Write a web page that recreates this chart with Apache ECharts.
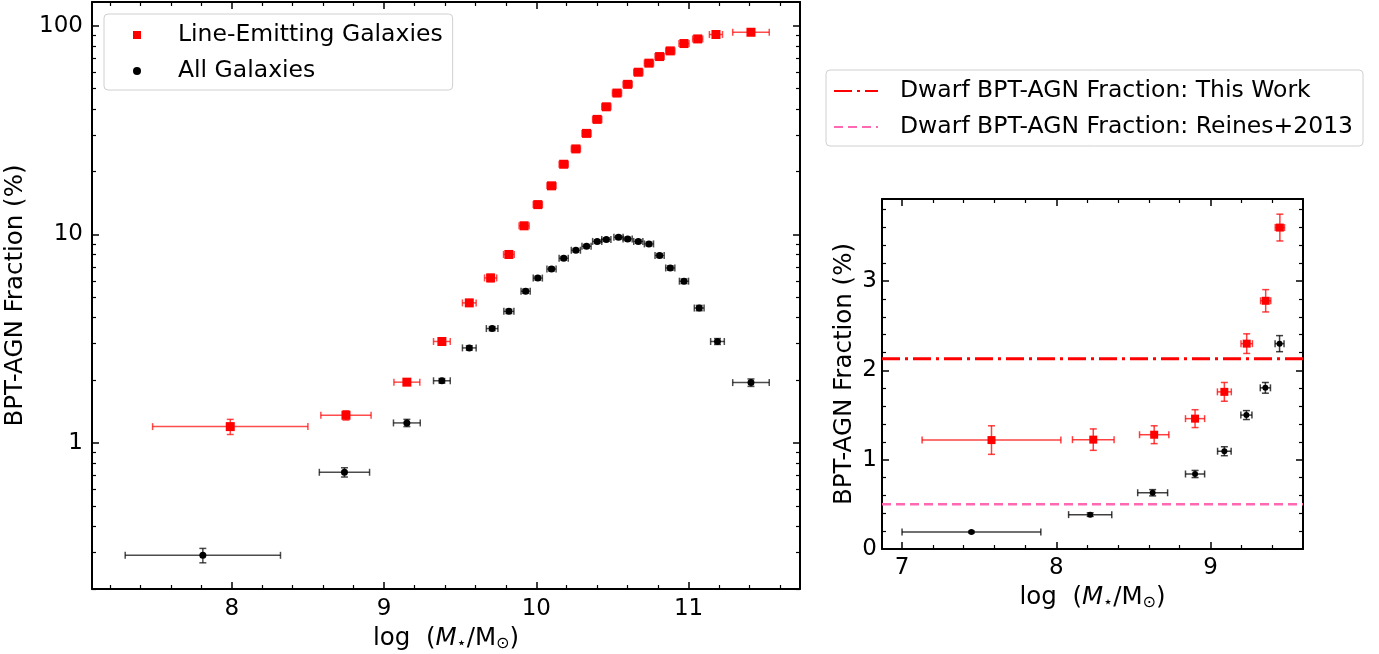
<!DOCTYPE html>
<html>
<head>
<meta charset="utf-8">
<script src="https://cdn.jsdelivr.net/npm/echarts@6/dist/echarts.min.js"></script>
<style>
html,body{margin:0;padding:0;background:#fff;}
#chart{width:1379px;height:654px;}
</style>
</head>
<body>
<div id="chart"></div>
<script>
// ---------- DATA (main panel) ----------
const lineX    = [7.99, 8.75, 9.15, 9.38, 9.56, 9.70, 9.82, 9.92, 10.01, 10.10, 10.18, 10.26, 10.33, 10.40, 10.46, 10.53, 10.60, 10.67, 10.74, 10.81, 10.88, 10.97, 11.06, 11.18, 11.41];
const lineY    = [1.20, 1.36, 1.96, 3.07, 4.70, 6.19, 8.02, 11.0, 13.9, 17.1, 21.7, 25.7, 30.5, 35.6, 40.9, 47.6, 52.4, 59.9, 66.2, 71.2, 75.8, 82.2, 86.5, 90.8, 93.1];
const lineXErr = [0.51, 0.165, 0.085, 0.055, 0.045, 0.04, 0.035, 0.033, 0.03, 0.03, 0.03, 0.03, 0.03, 0.03, 0.03, 0.03, 0.03, 0.03, 0.03, 0.03, 0.03, 0.033, 0.033, 0.043, 0.12];
const lineYErr = [0.10, 0.07, 0.06, 0.12, 0.17, 0.25, 0.3, 0.4, 0.5, 0.6, 0.7, 0.8, 0.9, 1.0, 1.1, 1.3, 1.4, 1.5, 1.6, 1.7, 1.8, 1.9, 2.0, 2.5, 3.0];

const allX     = [7.81, 8.74, 9.15, 9.38, 9.56, 9.71, 9.82, 9.93, 10.01, 10.10, 10.18, 10.26, 10.33, 10.40, 10.46, 10.54, 10.60, 10.67, 10.74, 10.81, 10.88, 10.97, 11.07, 11.19, 11.41];
const allY     = [0.29, 0.725, 1.25, 1.99, 2.86, 3.54, 4.28, 5.35, 6.18, 6.83, 7.69, 8.40, 8.78, 9.26, 9.46, 9.70, 9.52, 9.26, 9.01, 7.93, 6.91, 5.97, 4.44, 3.07, 1.95];
const allXErr  = [0.51, 0.165, 0.088, 0.055, 0.045, 0.038, 0.033, 0.03, 0.03, 0.03, 0.03, 0.03, 0.03, 0.03, 0.03, 0.03, 0.03, 0.03, 0.03, 0.03, 0.03, 0.03, 0.032, 0.045, 0.12];
const allYErr  = [0.023, 0.037, 0.05, 0.05, 0.07, 0.08, 0.1, 0.12, 0.13, 0.14, 0.15, 0.16, 0.17, 0.17, 0.18, 0.18, 0.18, 0.18, 0.18, 0.17, 0.16, 0.15, 0.13, 0.1, 0.08];

// ---------- DATA (dwarf panel) ----------
const dwarfLineX    = [7.58, 8.24, 8.635, 8.90, 9.09, 9.235, 9.358, 9.45];
const dwarfLineY    = [1.22, 1.225, 1.28, 1.46, 1.76, 2.30, 2.78, 3.60];
const dwarfLineXErr = [0.45, 0.135, 0.095, 0.062, 0.045, 0.037, 0.033, 0.03];
const dwarfLineYErr = [0.16, 0.12, 0.10, 0.10, 0.105, 0.11, 0.125, 0.15];

const dwarfAllX     = [7.45, 8.22, 8.625, 8.90, 9.09, 9.233, 9.356, 9.448];
const dwarfAllY     = [0.19, 0.385, 0.63, 0.84, 1.095, 1.50, 1.805, 2.30];
const dwarfAllXErr  = [0.45, 0.14, 0.097, 0.062, 0.044, 0.036, 0.033, 0.029];
const dwarfAllYErr  = [0.01, 0.02, 0.035, 0.04, 0.05, 0.05, 0.06, 0.09];

const fracThisWork = 2.13;
const fracReines   = 0.50;

// ---------- TICKS ----------
const mainXLabels  = [8, 9, 10, 11];
const mainXMinor   = [7.2, 7.4, 7.6, 7.8, 8.2, 8.4, 8.6, 8.8, 9.2, 9.4, 9.6, 9.8, 10.2, 10.4, 10.6, 10.8, 11.2, 11.4, 11.6];
const mainYLabels  = [1, 10, 100];
const mainYMinor   = [0.2, 0.3, 0.4, 0.5, 0.6, 0.7, 0.8, 0.9, 2, 3, 4, 5, 6, 7, 8, 9, 20, 30, 40, 50, 60, 70, 80, 90];
const dwarfXLabels = [7, 8, 9];
const dwarfXMinor  = [7.2, 7.4, 7.6, 7.8, 8.2, 8.4, 8.6, 8.8, 9.2, 9.4];
const dwarfYLabels = [0, 1, 2, 3];
const dwarfYMinor  = [0.2, 0.4, 0.6, 0.8, 1.2, 1.4, 1.6, 1.8, 2.2, 2.4, 2.6, 2.8, 3.2, 3.4, 3.6, 3.8];

// ---------- STYLE / LAYOUT ----------
const FONT = 'DejaVu Sans';
const TICK_FS = 23;
const TITLE_FS = 24.5;
const LEG_FS = 23.5;
const RED = '#ff0000';
const PINK = '#ff69b4';

function pack(xs, ys, xe, ye) {
  return xs.map((x, i) => [x, ys[i], x - xe[i], x + xe[i], ys[i] - ye[i], ys[i] + ye[i]]);
}

const xName = '{n|log  (}{i|M}{s|⋆}{n|/M}{s|⊙}{n|)}';
const nameRich = {
  n: {fontFamily: FONT, fontSize: TITLE_FS, color: '#000'},
  i: {fontFamily: FONT, fontSize: TITLE_FS, fontStyle: 'italic', color: '#000'},
  s: {fontFamily: FONT, fontSize: 16, color: '#000', padding: [10, 0, 0, 0]}
};

function axisSet(kind, gridIndex, min, max, majors, minors, opts) {
  const isX = kind === 'x';
  const posA = isX ? 'bottom' : 'left';
  const posB = isX ? 'top' : 'right';
  const type = opts.type || 'value';
  const base = {gridIndex, type, min, max, splitLine: {show: false}, silent: true};
  if (type === 'log') base.logBase = 10;
  const line = {show: true, onZero: false, lineStyle: {color: '#000', width: 2}};
  const noLine = {show: false, onZero: false};
  const lbl = {
    show: true, customValues: majors, color: '#000', fontFamily: FONT, fontSize: TICK_FS,
    margin: opts.margin, formatter: v => String(Math.round(v * 1000) / 1000)
  };
  return [
    Object.assign({}, base, {position: posA, axisLine: line,
      axisTick: {show: true, inside: true, length: 7, customValues: majors, lineStyle: {color: '#000', width: 1.5}},
      axisLabel: lbl,
      name: opts.name, nameLocation: 'middle', nameGap: opts.nameGap,
      nameTextStyle: opts.nameTextStyle}),
    Object.assign({}, base, {position: posA, axisLine: noLine,
      axisTick: {show: true, inside: true, length: 4, customValues: minors, lineStyle: {color: '#000', width: 1.2}},
      axisLabel: {show: false}}),
    Object.assign({}, base, {position: posB, axisLine: line,
      axisTick: {show: true, inside: true, length: 7, customValues: majors, lineStyle: {color: '#000', width: 1.5}},
      axisLabel: {show: false}}),
    Object.assign({}, base, {position: posB, axisLine: noLine,
      axisTick: {show: true, inside: true, length: 4, customValues: minors, lineStyle: {color: '#000', width: 1.2}},
      axisLabel: {show: false}})
  ];
}

const MAIN_XMIN = 7.082, MAIN_XMAX = 11.732, MAIN_YMIN = 0.2, MAIN_YMAX = 130;
const DW_XMIN = 6.87, DW_XMAX = 9.6, DW_YMIN = 0, DW_YMAX = 3.92;

const xAxes = [].concat(
  axisSet('x', 0, MAIN_XMIN, MAIN_XMAX, mainXLabels, mainXMinor, {
    margin: 9, name: xName, nameGap: 29, nameTextStyle: {rich: nameRich}}),
  axisSet('x', 1, DW_XMIN, DW_XMAX, dwarfXLabels, dwarfXMinor, {
    margin: 8, name: xName, nameGap: 36, nameTextStyle: {rich: nameRich}})
);
const yAxes = [].concat(
  axisSet('y', 0, MAIN_YMIN, MAIN_YMAX, mainYLabels, mainYMinor, {
    type: 'log', margin: 9, name: 'BPT-AGN Fraction (%)', nameGap: 52,
    nameTextStyle: {fontFamily: FONT, fontSize: TITLE_FS, color: '#000'}}),
  axisSet('y', 1, DW_YMIN, DW_YMAX, dwarfYLabels, dwarfYMinor, {
    margin: 5, name: 'BPT-AGN Fraction (%)', nameGap: 25,
    nameTextStyle: {fontFamily: FONT, fontSize: TITLE_FS, color: '#000'}})
);

function errSeries(name, xIdx, yIdx, data, color, cap) {
  return {
    type: 'custom', name, xAxisIndex: xIdx, yAxisIndex: yIdx, z: 2, silent: true,
    dimensions: ['x', 'y', 'xlo', 'xhi', 'ylo', 'yhi'],
    encode: {x: 0, y: 1},
    data,
    renderItem: function (params, api) {
      const x = api.value(0), y = api.value(1);
      const pL = api.coord([api.value(2), y]);
      const pR = api.coord([api.value(3), y]);
      const pB = api.coord([x, api.value(4)]);
      const pT = api.coord([x, api.value(5)]);
      const st = {stroke: color, lineWidth: 1.5};
      const mk = (x1, y1, x2, y2) => ({type: 'line', shape: {x1, y1, x2, y2}, style: st});
      return {type: 'group', children: [
        mk(pL[0], pL[1], pR[0], pR[1]),
        mk(pL[0], pL[1] - cap, pL[0], pL[1] + cap),
        mk(pR[0], pR[1] - cap, pR[0], pR[1] + cap),
        mk(pB[0], pB[1], pT[0], pT[1]),
        mk(pB[0] - cap, pB[1], pB[0] + cap, pB[1]),
        mk(pT[0] - cap, pT[1], pT[0] + cap, pT[1])
      ]};
    }
  };
}

function markSeries(name, xIdx, yIdx, xs, ys, symbol, size, color) {
  return {
    type: 'scatter', name, xAxisIndex: xIdx, yAxisIndex: yIdx, z: 3, silent: true,
    symbol, symbolSize: size, itemStyle: {color, opacity: 1},
    data: xs.map((x, i) => [x, ys[i]])
  };
}

const series = [
  errSeries('errLine', 0, 0, pack(lineX, lineY, lineXErr, lineYErr), 'rgba(255,0,0,0.7)', 3.5),
  errSeries('errAll', 0, 0, pack(allX, allY, allXErr, allYErr), 'rgba(0,0,0,0.7)', 3.5),
  markSeries('Line-Emitting Galaxies', 0, 0, lineX, lineY, 'rect', 9, RED),
  markSeries('All Galaxies', 0, 0, allX, allY, 'circle', 7, '#000'),

  {type: 'line', name: 'Dwarf BPT-AGN Fraction: This Work', xAxisIndex: 4, yAxisIndex: 4, z: 1,
   symbol: 'none', silent: true, lineStyle: {color: RED, width: 3, type: [18, 5, 3, 5]}, itemStyle: {color: RED},
   data: [[DW_XMIN, fracThisWork], [DW_XMAX, fracThisWork]]},
  {type: 'line', name: 'Dwarf BPT-AGN Fraction: Reines+2013', xAxisIndex: 4, yAxisIndex: 4, z: 1,
   symbol: 'none', silent: true, lineStyle: {color: PINK, width: 2.5, type: [9, 5]}, itemStyle: {color: PINK},
   data: [[DW_XMIN, fracReines], [DW_XMAX, fracReines]]},

  errSeries('errDwarfLine', 4, 4, pack(dwarfLineX, dwarfLineY, dwarfLineXErr, dwarfLineYErr), 'rgba(255,0,0,0.75)', 3.5),
  errSeries('errDwarfAll', 4, 4, pack(dwarfAllX, dwarfAllY, dwarfAllXErr, dwarfAllYErr), 'rgba(0,0,0,0.75)', 3.5),
  markSeries('Dwarf line-emitting', 4, 4, dwarfLineX, dwarfLineY, 'rect', 8, RED),
  markSeries('Dwarf all', 4, 4, dwarfAllX, dwarfAllY, 'circle', 6, '#000')
];

const legendBox = {
  orient: 'vertical', selectedMode: false,
  borderColor: '#d0d0d0', borderWidth: 1, borderRadius: 4,
  backgroundColor: 'rgba(255,255,255,0.8)'
};

const option = {
  animation: false,
  backgroundColor: '#fff',
  textStyle: {fontFamily: FONT},
  grid: [
    {left: 92, top: 2, width: 708, height: 587, containLabel: false, outerBoundsMode: 'none'},
    {left: 882, top: 199, width: 421, height: 350, containLabel: false, outerBoundsMode: 'none'}
  ],
  xAxis: xAxes,
  yAxis: yAxes,
  legend: [
    Object.assign({}, legendBox, {
      left: 104, top: 14, itemWidth: 8, itemHeight: 8, itemGap: 12,
      padding: [9, 10, 7, 29],
      data: [{name: 'Line-Emitting Galaxies', icon: 'rect'}, {name: 'All Galaxies', icon: 'circle'}],
      textStyle: {fontFamily: FONT, fontSize: LEG_FS, color: '#000', lineHeight: 24, padding: [0, 0, 0, 32]}
    }),
    Object.assign({}, legendBox, {
      left: 826, top: 70, itemWidth: 44, itemHeight: 14, itemGap: 12,
      padding: [9, 10, 7, 7],
      itemStyle: {opacity: 0},
      data: ['Dwarf BPT-AGN Fraction: This Work', 'Dwarf BPT-AGN Fraction: Reines+2013'],
      textStyle: {fontFamily: FONT, fontSize: LEG_FS, color: '#000', lineHeight: 24, padding: [0, 0, 0, 17]}
    })
  ],
  series
};

const chart = echarts.init(document.getElementById('chart'), null, {renderer: 'canvas'});
chart.setOption(option);
</script>
</body>
</html>
